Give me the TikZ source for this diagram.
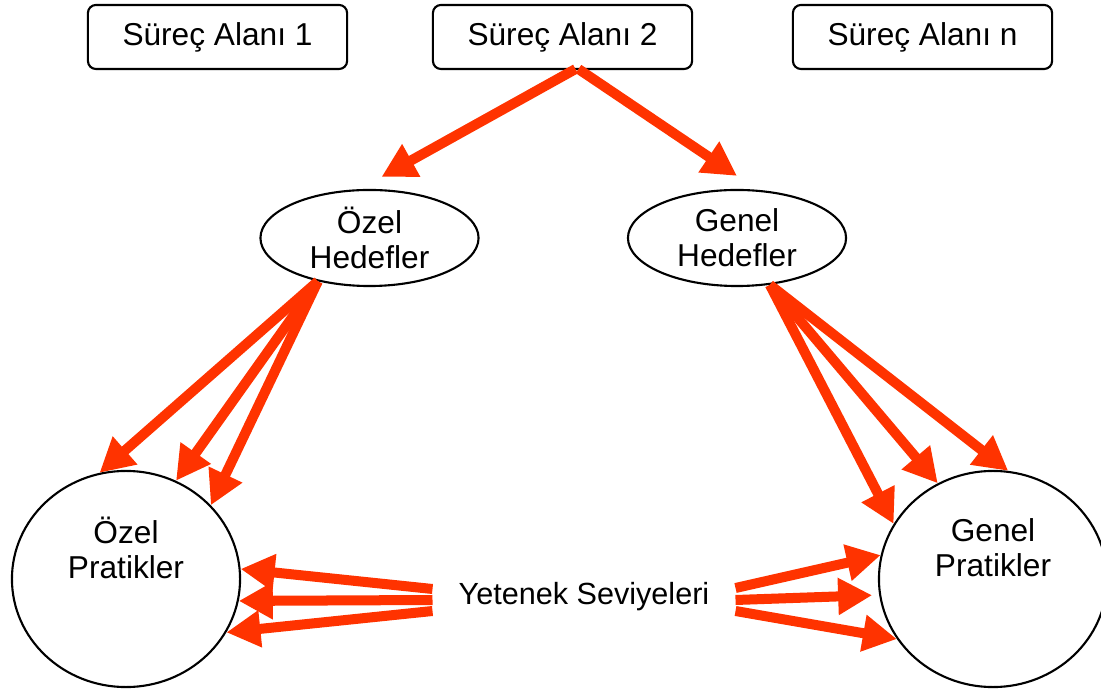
\documentclass[tikz,border=0pt]{standalone}
\usepackage{fontspec}
\setmainfont{Liberation Sans}
\usepackage{tikz}
\usetikzlibrary{arrows.meta, shapes.geometric}
\usepackage{xcolor}
\definecolor{arrowcolor}{HTML}{FF3300}

\begin{document}
\begin{tikzpicture}[x=0.01cm, y=-0.01cm,
    every node/.style={font=\fontsize{9}{10}\selectfont},
    areabox/.style={draw, rounded corners=0.08cm, line width=0.6pt,
        minimum width=2.59cm, minimum height=0.64cm},
    goal/.style={draw, ellipse, line width=0.6pt, inner sep=0pt, align=center,
        minimum width=2.18cm, minimum height=0.96cm},
    practice/.style={draw, ellipse, line width=0.6pt,
        minimum width=2.28cm, minimum height=2.16cm},
    bigarrow/.style={arrowcolor, line width=0.1cm,
        -{Triangle[length=0.34cm, width=0.35cm]}}]
    \useasboundingbox (0,0) rectangle (1101,692);

    % Process areas
    \node[areabox] (sa1) at (217.5,37) {Süreç Alanı 1};
    \node[areabox] (sa2) at (562.5,37) {Süreç Alanı 2};
    \node[areabox] (san) at (922.5,37) {Süreç Alanı n};

    % Goals
    \node[goal] (oh) at (369.5,238) {Özel\\Hedefler};
    \node[goal] (gh) at (737,238) {Genel\\Hedefler};

    % Practices
    \node[practice, label={[align=center, yshift=0.31cm]center:{Özel\\Pratikler}}]
        (op) at (126,579) {};
    \node[practice, label={[align=center, yshift=0.31cm]center:{Genel\\Pratikler}}]
        (gp) at (993,579) {};

    % Capability levels
    \node[inner xsep=0.255cm, font=\fontsize{8.7}{10}\selectfont]
        (ys) at (584,597) {Yetenek Seviyeleri};

    % Process area -> goals
    \draw[bigarrow] ([shift={(13,-1)}]sa2.south) -- ([shift={(12,-12)}]oh.north);
    \draw[bigarrow] ([shift={(16,-1)}]sa2.south) -- ([shift={(0,-13)}]gh.north);

    % Goals -> practices
    \draw[bigarrow] (oh.220) -- (op.104);
    \draw[bigarrow] (oh.220) -- (op.63.7);
    \draw[bigarrow] (oh.220) -- (op.41);
    \draw[bigarrow] (gh.-55) -- (gp.151.5);
    \draw[bigarrow] (gh.-55) -- (gp.120);
    \draw[bigarrow] (gh.-55) -- (gp.82);

    % Capability levels -> practices
    \draw[bigarrow] ([shift={(0,-8)}]ys.west) -- (op.5.5);
    \draw[bigarrow] ([shift={(0,3)}]ys.west) -- (op.-11);
    \draw[bigarrow] ([shift={(0,14)}]ys.west) -- (op.-28);
    \draw[bigarrow] ([shift={(0,-9)}]ys.east) -- (gp.168);
    \draw[bigarrow, shorten >=0.07cm] ([shift={(0,3)}]ys.east) -- (gp.188.5);
    \draw[bigarrow] ([shift={(0,14)}]ys.east) -- (gp.212);
\end{tikzpicture}
\end{document}
